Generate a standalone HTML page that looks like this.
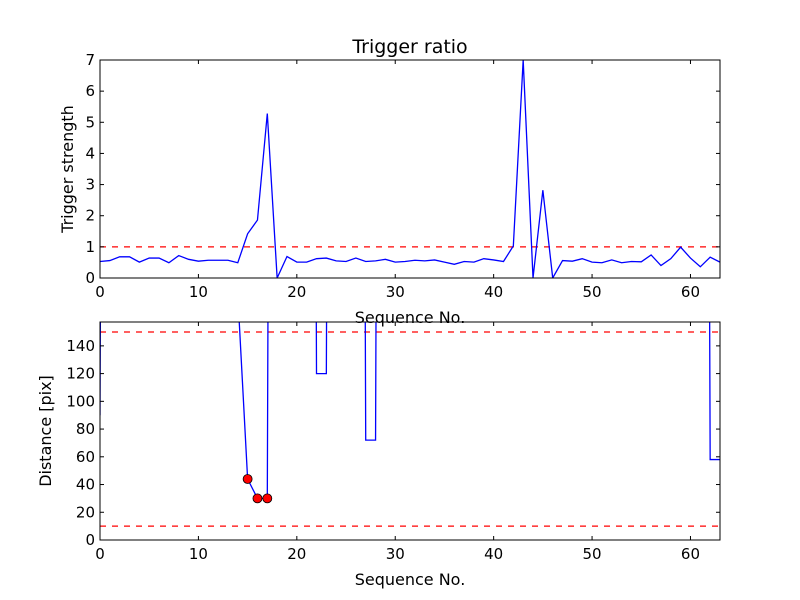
<!DOCTYPE html>
<html><head><meta charset="utf-8"><style>body{margin:0;background:#fff}svg{display:block}text{font-family:"DejaVu Sans","Liberation Sans",sans-serif}</style></head>
<body>
<svg id="c" width="800" height="600"></svg>
<script>
const seq=[...Array(64).keys()];
const strength=[0.53,0.56,0.68,0.68,0.51,0.64,0.64,0.49,0.72,0.6,0.54,0.57,0.57,0.57,0.49,1.42,1.86,5.28,0,0.69,0.51,0.51,0.62,0.64,0.55,0.53,0.64,0.53,0.55,0.6,0.51,0.53,0.57,0.55,0.58,0.51,0.44,0.53,0.51,0.62,0.58,0.53,1.03,7,0,2.82,0,0.56,0.54,0.62,0.51,0.49,0.58,0.49,0.53,0.52,0.74,0.4,0.62,0.99,0.64,0.36,0.67,0.51];
const distance=[90,2000,2000,2000,2000,2000,2000,2000,2000,2000,2000,2000,2000,2000,177,44,30,30,2000,2000,2000,2000,120,120,2000,2000,2000,72,72,2000,2000,2000,2000,2000,2000,2000,2000,2000,2000,2000,2000,2000,2000,2000,2000,2000,2000,2000,2000,2000,2000,2000,2000,2000,2000,2000,2000,2000,2000,2000,2000,2000,58,58];
const xTicks=[0,10,20,30,40,50,60];
const topTicks=[0,1,2,3,4,5,6,7];
const botTicks=[0,20,40,60,80,100,120,140];
const topThreshold=[1];
const botThresholds=[10,150];
const NS="http://www.w3.org/2000/svg",svg=document.getElementById('c');
function mk(t,a,p){const e=document.createElementNS(NS,t);for(const k in a)e.setAttribute(k,a[k]);(p||svg).appendChild(e);return e;}
const L=100,R=720;
const xs=v=>L+v*(R-L)/63;
const yTop=v=>278-v*(218/7);
const yBot=v=>540-v*(208/150);
const defs=mk('defs',{});
const c1=mk('clipPath',{id:'c1'},defs);mk('rect',{x:L,y:60,width:R-L,height:218},c1);
const c2=mk('clipPath',{id:'c2'},defs);mk('rect',{x:L,y:322,width:R-L,height:218},c2);
function axes(top,bot,ticks,ys,name,ylab,xlab){
  const g=mk('g',{});
  
  
  xTicks.forEach(t=>{const x=xs(t);mk('line',{x1:x,x2:x,y1:bot,y2:bot-4,stroke:'#000'},g);mk('line',{x1:x,x2:x,y1:top,y2:top+4,stroke:'#000'},g);
    const tx=mk('text',{x:x,y:bot+19,'font-size':15,'text-anchor':'middle'},g);tx.textContent=t;
    });
  ticks.forEach(t=>{const y=ys(t);mk('line',{x1:L,x2:L+4,y1:y,y2:y,stroke:'#000'},g);mk('line',{x1:R,x2:R-4,y1:y,y2:y,stroke:'#000'},g);
    const tx=mk('text',{x:L-5,y:y+5,'font-size':15,'text-anchor':'end'},g);tx.textContent=t;
    });
  const yl=mk('text',{x:0,y:0,'font-size':16,'text-anchor':'middle',transform:`translate(${ylab[1]},${(top+bot)/2}) rotate(-90)`},g);yl.textContent=ylab[0];
  
  const xl=mk('text',{x:(L+R)/2,y:bot+45,'font-size':16,'text-anchor':'middle'},g);xl.textContent=xlab;
  
}
topThreshold.forEach(v=>{const l=mk('line',{x1:L,x2:R,y1:yTop(v),y2:yTop(v),stroke:'red','stroke-width':1.2,'stroke-dasharray':'6,6'});
  });
const p1=mk('polyline',{points:seq.map(i=>xs(i)+','+yTop(strength[i])).join(' '),fill:'none',stroke:'blue','stroke-width':1.3,'clip-path':'url(#c1)'});

mk('rect',{x:L,y:60,width:R-L,height:218,fill:'none',stroke:'#000','stroke-width':1});
axes(60,278,topTicks,yTop,'top-axes',['Trigger strength',73],'Sequence No.');
const t=mk('text',{x:410,y:53,'font-size':19,'text-anchor':'middle'});t.textContent='Trigger ratio';

botThresholds.forEach(v=>{const l=mk('line',{x1:L,x2:R,y1:yBot(v),y2:yBot(v),stroke:'red','stroke-width':1.2,'stroke-dasharray':'6,6'});
  });
const p2=mk('polyline',{points:seq.map(i=>xs(i)+','+yBot(distance[i])).join(' '),fill:'none',stroke:'blue','stroke-width':1.3,'clip-path':'url(#c2)'});

seq.forEach(i=>{if(distance[i]<50&&distance[i]>botThresholds[0]){const c=mk('circle',{cx:xs(i),cy:yBot(distance[i]),r:4.5,fill:'red',stroke:'#000','stroke-width':0.8});
  }});
mk('rect',{x:L,y:322,width:R-L,height:218,fill:'none',stroke:'#000','stroke-width':1});
axes(322,540,botTicks,yBot,'bottom-axes',['Distance [pix]',51],'Sequence No.');
</script>
</body></html>
